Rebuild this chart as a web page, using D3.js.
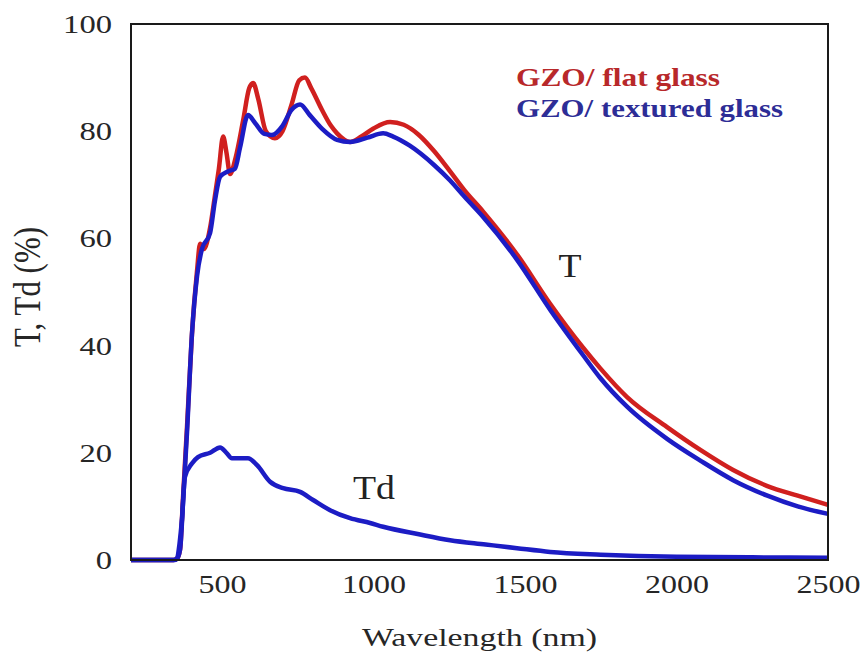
<!DOCTYPE html>
<html>
<head>
<meta charset="utf-8">
<script src="https://cdn.jsdelivr.net/npm/d3@7"></script>
<style>
  html, body { margin: 0; padding: 0; background: #fff; }
  svg { display: block; }
  text { font-family: "Liberation Serif", "Times New Roman", serif; }
</style>
</head>
<body>
<svg id="chart" width="861" height="655"></svg>
<script>
// ---- data ----
const xTicks = [500, 1000, 1500, 2000, 2500];
const yTicks = [0, 20, 40, 60, 80, 100];

// GZO / flat glass : total transmittance T (%)
const flatWl = [200, 340, 352, 362, 372, 385, 401, 418, 428, 440, 461, 477, 490, 504, 515, 527, 545, 570, 590, 603, 620, 645, 675, 700, 730, 755, 774, 795, 830, 860, 880, 923, 960, 1000, 1055, 1100, 1150, 1200, 1253, 1300, 1362, 1474, 1583, 1692, 1748, 1837, 1969, 2080, 2187, 2300, 2400, 2500];
const flatT  = [0, 0, 0.3, 2, 12, 25, 42, 54, 59, 58, 62, 68, 73, 79, 76, 72, 75, 82, 88, 89, 86, 80, 78.7, 80, 85, 89.5, 90, 88, 84, 81, 79.6, 78, 79, 80.5, 81.7, 81.2, 79.3, 76.3, 72.5, 69, 65, 57, 47.8, 39.6, 35.8, 30.4, 24.8, 20.5, 16.8, 13.8, 12, 10.3];

// GZO / textured glass : total transmittance T (%)
const texWl = [200, 340, 352, 362, 372, 385, 401, 418, 434, 461, 477, 494, 520, 543, 560, 586, 610, 640, 665, 700, 730, 758, 790, 830, 880, 923, 980, 1032, 1065, 1120, 1200, 1253, 1300, 1362, 1474, 1583, 1692, 1748, 1837, 1969, 2080, 2187, 2300, 2400, 2500];
const texT  = [0, 0, 0.3, 2, 11, 24, 42, 53, 58, 61, 67, 71.5, 72.5, 73, 77, 83, 81.5, 79.5, 79.3, 81, 84, 85, 83, 80.5, 78.4, 78, 78.8, 79.6, 79, 77.3, 73.7, 70.8, 67.8, 64, 56, 46.7, 38.2, 34, 28.6, 22.6, 18.5, 14.9, 12, 10, 8.6];

// GZO / textured glass : diffuse transmittance Td (%)
const tdWl = [200, 345, 352, 360, 368, 378, 401, 421, 461, 494, 515, 533, 560, 586, 616, 659, 702, 758, 801, 857, 923, 989, 1032, 1150, 1253, 1370, 1474, 1583, 1750, 2000, 2250, 2500];
const tdT  = [0, 0, 0.3, 3, 7.5, 15.5, 18, 19.2, 20, 21, 20, 19, 19, 19, 17.7, 14.6, 13.4, 12.7, 11.2, 9.3, 7.8, 6.9, 6.2, 4.8, 3.7, 2.9, 2.2, 1.5, 1.0, 0.6, 0.5, 0.4];

const legendLabels = ["GZO/ flat glass", "GZO/ textured glass"];
const xTitle = "Wavelength (nm)";
const yTitle = "T, Td (%)";

// ---- layout ----
const svg = d3.select("#chart");
const m = { left: 131, top: 24, right: 828, bottom: 560 };
const x = d3.scaleLinear().domain([200, 2500]).range([m.left, m.right]);
const y = d3.scaleLinear().domain([0, 100]).range([m.bottom, m.top]);

const RED = "#d0201f";
const BLUE = "#1c1cc4";

const line = d3.line().x(d => x(d[0])).y(d => y(d[1])).curve(d3.curveMonotoneX);
const zip = (a, b) => a.map((v, i) => [v, b[i]]);

const plot = svg.append("g");
plot.append("path").datum(zip(flatWl, flatT))
  .attr("d", line).attr("fill", "none").attr("stroke", RED)
  .attr("stroke-width", 4.5).attr("stroke-linejoin", "round");
plot.append("path").datum(zip(texWl, texT))
  .attr("d", line).attr("fill", "none").attr("stroke", BLUE)
  .attr("stroke-width", 4.5).attr("stroke-linejoin", "round");
plot.append("path").datum(zip(tdWl, tdT))
  .attr("d", line).attr("fill", "none").attr("stroke", BLUE)
  .attr("stroke-width", 4.5).attr("stroke-linejoin", "round");

// frame
svg.append("rect")
  .attr("x", m.left).attr("y", m.top)
  .attr("width", m.right - m.left).attr("height", m.bottom - m.top)
  .attr("fill", "none").attr("stroke", "#1a1a1a").attr("stroke-width", 2);

// axes (labels only, no tick marks)
const xAxis = d3.axisBottom(x).tickValues(xTicks).tickSize(0).tickPadding(0).tickFormat(d3.format("d"));
const gx = svg.append("g").attr("transform", `translate(0,${m.bottom})`).call(xAxis);
gx.select(".domain").remove();
gx.selectAll("text")
  .attr("dy", null).attr("y", 33)
  .attr("font-size", 25).attr("fill", "#262626")
  .attr("font-family", "Liberation Serif")
  .each(function(d){ const s = String(d).length; d3.select(this).attr("textLength", s * 16).attr("lengthAdjust", "spacingAndGlyphs"); });

const yAxis = d3.axisLeft(y).tickValues(yTicks).tickSize(0).tickPadding(0).tickFormat(d3.format("d"));
const gy = svg.append("g").attr("transform", `translate(112,0)`).call(yAxis);
gy.select(".domain").remove();
gy.selectAll("text")
  .attr("dy", "0.34em").attr("x", 0)
  .attr("font-size", 25).attr("fill", "#262626")
  .attr("font-family", "Liberation Serif")
  .each(function(d){ const s = String(d).length; d3.select(this).attr("textLength", s * 16.3).attr("lengthAdjust", "spacingAndGlyphs"); });

// axis titles
svg.append("text")
  .attr("x", (m.left + m.right) / 2).attr("y", 646)
  .attr("text-anchor", "middle").attr("font-size", 25).attr("fill", "#262626")
  .attr("textLength", 235).attr("lengthAdjust", "spacingAndGlyphs")
  .text(xTitle);
svg.append("text")
  .attr("transform", `translate(40,287) scale(1.3,1) rotate(-90)`)
  .attr("text-anchor", "middle").attr("font-size", 29).attr("fill", "#262626")
  .attr("textLength", 120).attr("lengthAdjust", "spacingAndGlyphs")
  .text(yTitle);

// legend
svg.append("text").attr("x", 516).attr("y", 86)
  .attr("font-size", 25).attr("font-weight", "bold").attr("fill", "#b8282a")
  .attr("textLength", 204).attr("lengthAdjust", "spacingAndGlyphs")
  .text(legendLabels[0]);
svg.append("text").attr("x", 516).attr("y", 117)
  .attr("font-size", 25).attr("font-weight", "bold").attr("fill", "#2d2d96")
  .attr("textLength", 267).attr("lengthAdjust", "spacingAndGlyphs")
  .text(legendLabels[1]);

// curve annotations
svg.append("text").attr("x", 570).attr("y", 277)
  .attr("text-anchor", "middle").attr("font-size", 33).attr("fill", "#222")
  .attr("textLength", 23).attr("lengthAdjust", "spacingAndGlyphs")
  .text("T");
svg.append("text").attr("x", 374).attr("y", 499)
  .attr("text-anchor", "middle").attr("font-size", 33).attr("fill", "#222")
  .attr("textLength", 42).attr("lengthAdjust", "spacingAndGlyphs")
  .text("Td");
</script>
</body>
</html>
